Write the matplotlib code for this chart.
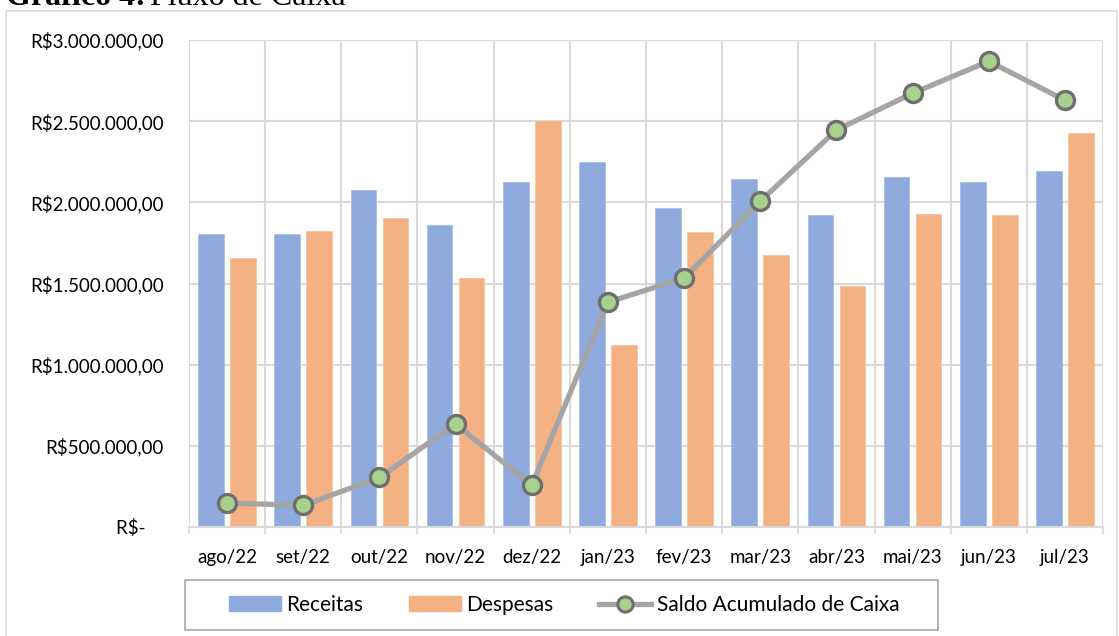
import matplotlib.pyplot as plt
import numpy as np
from matplotlib.patches import Rectangle
from matplotlib.lines import Line2D
from matplotlib.ticker import FuncFormatter, FixedLocator

plt.rcParams['font.family'] = ['Lato', 'DejaVu Sans']

# Data
meses = ['ago/22', 'set/22', 'out/22', 'nov/22', 'dez/22', 'jan/23',
         'fev/23', 'mar/23', 'abr/23', 'mai/23', 'jun/23', 'jul/23']
receitas = [1804000, 1804000, 2073000, 1862000, 2126000, 2249000,
            1964000, 2143000, 1921000, 2153000, 2124000, 2190000]
despesas = [1656000, 1821000, 1901000, 1531000, 2504000, 1121000,
            1817000, 1673000, 1482000, 1927000, 1925000, 2428000]
saldo = [148000, 133000, 305000, 634000, 258000, 1385000,
         1533000, 2007000, 2445000, 2672000, 2869000, 2629000]

W, H = 1119, 636
fig = plt.figure(figsize=(W / 100, H / 100), dpi=100)
ax = fig.add_axes([189 / W, 1 - 527 / H, (1103 - 189) / W, (527 - 40) / H])

x = np.arange(len(meses))
bw = 0.337
ax.bar(x - 0.21, receitas, bw, color='#8FAADC', edgecolor='#A9BEE6', linewidth=0.6, zorder=2)
ax.bar(x + 0.21, despesas, bw, color='#F4B183', edgecolor='#F7C4A0', linewidth=0.6, zorder=2)
ax.plot(x, saldo, color='#A5A5A5', lw=3.8, marker='o', ms=13,
        mfc='#A9D18E', mec='#6F6F6F', mew=2.4, zorder=3, solid_capstyle='round')

ax.set_xlim(-0.5, len(meses) - 0.5)
ax.set_ylim(0, 3000000)
ax.set_yticks(np.arange(0, 3000001, 500000))


def fmt(v, pos):
    if v == 0:
        return 'R$-    '
    s = f'{v:,.2f}'.replace(',', 'X').replace('.', ',').replace('X', '.')
    return 'R$' + s


ax.yaxis.set_major_formatter(FuncFormatter(fmt))
ax.set_xticks(x)
ax.set_xticklabels(meses)
ax.xaxis.set_minor_locator(FixedLocator(np.arange(-0.5, len(meses), 1)))
ax.tick_params(axis='x', which='major', length=0, pad=16, labelsize=13.5)
ax.tick_params(axis='x', which='minor', length=5, width=1.2, color='#D9D9D9')
ax.tick_params(axis='y', length=0, pad=18, labelsize=13.5)

ax.grid(axis='y', color='#D9D9D9', lw=1.5, zorder=0)
ax.grid(axis='x', which='minor', color='#D9D9D9', lw=1.5, zorder=0)
ax.set_axisbelow(True)
for side in ['top', 'right', 'left']:
    ax.spines[side].set_visible(False)
ax.spines['bottom'].set_color('#D9D9D9')
ax.spines['bottom'].set_linewidth(1.5)

# outer chart border and legend frame
fig.patches.append(Rectangle((6 / W, -0.01), (1117 - 6) / W, 1 - 10.5 / H + 0.01,
                             transform=fig.transFigure, fill=False,
                             edgecolor='#D9D9D9', lw=1.2))
fig.patches.append(Rectangle((185 / W, 1 - 630 / H), (938 - 185) / W, 50 / H,
                             transform=fig.transFigure, fill=False,
                             edgecolor='#A6A6A6', lw=1.2))

handles = [
    Rectangle((0, 0), 1, 1, color='#8FAADC'),
    Rectangle((0, 0), 1, 1, color='#F4B183'),
    Line2D([], [], color='#A5A5A5', lw=3.8, marker='o', ms=11,
           mfc='#A9D18E', mec='#6F6F6F', mew=2.2),
]
fig.legend(handles, ['Receitas', 'Despesas', 'Saldo Acumulado de Caixa'],
           loc='center', bbox_to_anchor=(564 / W, 1 - 605 / H), ncol=3,
           frameon=False, fontsize=15, handlelength=2.5, handleheight=0.7,
           handletextpad=0.25, columnspacing=2.2)

# title, mostly cut off at the top as in the source
fig.text(6 / W, 1 - 5 / H, 'Gráfico 4:', family='Liberation Serif',
         fontweight='bold', fontsize=23, va='baseline', ha='left')
fig.text(150 / W, 1 - 5 / H, 'Fluxo de Caixa', family='Liberation Serif',
         fontsize=23, va='baseline', ha='left')

fig.savefig('out.png', dpi=100)
